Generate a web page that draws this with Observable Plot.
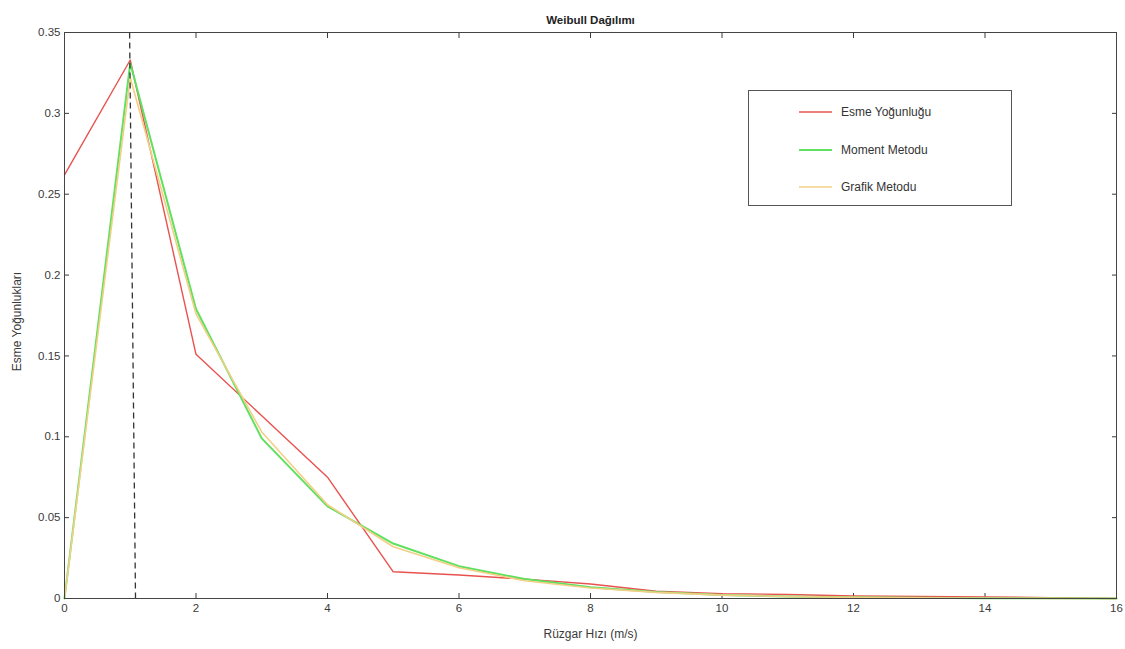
<!DOCTYPE html>
<html>
<head>
<meta charset="utf-8">
<script src="https://cdn.jsdelivr.net/npm/d3@7"></script>
<script src="https://cdn.jsdelivr.net/npm/@observablehq/plot@0.6"></script>
<style>
  html, body { margin: 0; padding: 0; background: #fff; }
  #wrap { position: relative; width: 1125px; height: 649px; font-family: "Liberation Sans", Arial, sans-serif; }
  #legend {
    position: absolute; left: 748px; top: 90px; width: 264px; height: 116px;
    border: 1px solid #555; background: #fff; box-sizing: border-box;
    font-size: 12px; color: #333;
  }
  #legend .row { position: absolute; left: 50px; display: flex; align-items: center; }
  #legend .row span { margin-left: 9px; }
</style>
</head>
<body>
<div id="wrap">
  <div id="chart"></div>
  <div id="legend"></div>
</div>
<script>
// Wind speed bins (m/s)
const speeds = [0, 1, 2, 3, 4, 5, 6, 7, 8, 9, 10, 11, 12, 13, 14, 15, 16];
// Observed frequency density
const esme = [0.262, 0.333, 0.151, 0.113, 0.075, 0.0165, 0.0145, 0.012, 0.009, 0.0045, 0.003, 0.0025, 0.0015, 0.0012, 0.001, 0.0005, 0];
// Weibull fit, method of moments
const moment = [0, 0.331, 0.179, 0.099, 0.057, 0.034, 0.020, 0.012, 0.007, 0.004, 0.0022, 0.0012, 0.0007, 0.0004, 0.0002, 0.0001, 0];
// Weibull fit, graphical method
const grafik = [0, 0.322, 0.176, 0.103, 0.058, 0.032, 0.019, 0.011, 0.0065, 0.0038, 0.0021, 0.0012, 0.0007, 0.0004, 0.0002, 0.0001, 0];

const seriesNames = ["Esme Yoğunluğu", "Moment Metodu", "Grafik Metodu"];
const seriesColors = ["#e8524f", "#5fe05f", "#f3cf86"];
const seriesWidths = [1.4, 2, 1.6];

const xTicks = [0, 2, 4, 6, 8, 10, 12, 14, 16];
const yTicks = [0, 0.05, 0.1, 0.15, 0.2, 0.25, 0.3, 0.35];

// Dashed marker at the modal wind speed
const peakLine = [{x1: 0.99, y1: 0.35, x2: 1.08, y2: 0}];

const title = "Weibull Dağılımı";
const xLabel = "Rüzgar Hızı (m/s)";
const yLabel = "Esme Yoğunlukları";

const seriesValues = [esme, moment, grafik];
const rows = seriesValues.map((vals, i) =>
  speeds.map((s, j) => ({speed: s, value: vals[j], series: seriesNames[i]})));

const fmt = d => String(+d.toFixed(2));

const chart = Plot.plot({
  width: 1125,
  height: 649,
  marginLeft: 64,
  marginRight: 9,
  marginTop: 32,
  marginBottom: 51,
  style: {fontFamily: "Liberation Sans, Arial, sans-serif", fontSize: "11.5px", color: "#3a3a3a", background: "#fff"},
  x: {domain: [0, 16]},
  y: {domain: [0, 0.35]},
  marks: [
    Plot.axisX({ticks: xTicks, tickSize: -5, tickPadding: 10, tickFormat: fmt, label: null}),
    Plot.axisX({anchor: "top", ticks: xTicks, tickSize: -5, tickFormat: () => "", label: null}),
    Plot.axisY({ticks: yTicks, tickSize: -5, tickPadding: 9, tickFormat: fmt, label: null}),
    Plot.axisY({anchor: "right", ticks: yTicks, tickSize: -5, tickFormat: () => "", label: null}),
    ...rows.map((r, i) => Plot.line(r, {
      x: "speed", y: "value", stroke: seriesColors[i], strokeWidth: seriesWidths[i]
    })),
    Plot.link(peakLine, {x1: "x1", y1: "y1", x2: "x2", y2: "y2",
      stroke: "#333", strokeWidth: 1.3, strokeDasharray: "6,4"}),
    Plot.frame({stroke: "#444", strokeWidth: 1}),
    Plot.text([title], {frameAnchor: "top", dy: -17, fontWeight: "bold", fontSize: 11.5, fill: "#222"}),
    Plot.text([xLabel], {frameAnchor: "bottom", dy: 39, fontSize: 12, fill: "#3a3a3a"}),
    Plot.text([yLabel], {frameAnchor: "left", dx: -47, dy: 6, rotate: -90, textAnchor: "middle", fontSize: 12, fill: "#3a3a3a"})
  ]
});
document.getElementById("chart").appendChild(chart);

// Legend box
const legend = document.getElementById("legend");
seriesNames.forEach((name, i) => {
  const row = document.createElement("div");
  row.className = "row";
  row.style.top = (14 + i * 37.5) + "px";
  row.innerHTML = `<svg width="33" height="8"><line x1="0" y1="4" x2="33" y2="4" stroke="${seriesColors[i]}" stroke-width="${seriesWidths[i]}"/></svg><span>${name}</span>`;
  legend.appendChild(row);
});
</script>
</body>
</html>
